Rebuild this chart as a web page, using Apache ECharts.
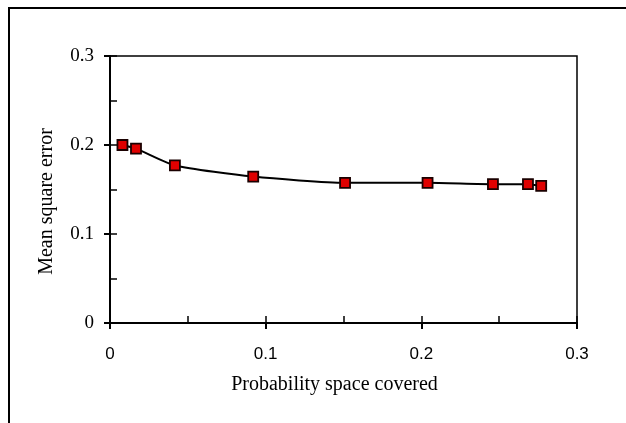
<!DOCTYPE html>
<html>
<head>
<meta charset="utf-8">
<script src="https://cdn.jsdelivr.net/npm/echarts@6/dist/echarts.min.js"></script>
<style>
html,body{margin:0;padding:0;background:#fff;}
#chart{width:626px;height:423px;}
</style>
</head>
<body>
<div id="chart"></div>
<script>
var xValues = [0.008, 0.0167, 0.0417, 0.092, 0.151, 0.204, 0.246, 0.2685, 0.277];
var yValues = [0.200, 0.196, 0.177, 0.1645, 0.1575, 0.1575, 0.156, 0.156, 0.154];
var xTitle = 'Probability space covered';
var yTitle = 'Mean square error';

var points = xValues.map(function (x, i) { return [x, yValues[i]]; });
var serif = '"Liberation Serif", "Times New Roman", serif';
var sans = '"Liberation Sans", Arial, sans-serif';

var chart = echarts.init(document.getElementById('chart'), null, {renderer: 'canvas'});
chart.setOption({
  animation: false,
  backgroundColor: '#fff',
  graphic: [{
    type: 'rect',
    shape: {x: 9, y: 8, width: 800, height: 600},
    style: {fill: 'none', stroke: '#000', lineWidth: 2},
    silent: true
  }],
  grid: {left: 110, right: 49, top: 56, bottom: 100, show: true, borderColor: '#000', borderWidth: 1.5, backgroundColor: 'transparent'},
  xAxis: [{
    type: 'value', min: 0, max: 0.3, interval: 0.1, position: 'bottom',
    name: xTitle, nameLocation: 'middle', nameGap: 52,
    nameTextStyle: {fontFamily: serif, fontSize: 20, color: '#000', padding: [0, 18, 0, 0]},
    axisLine: {show: true, lineStyle: {color: '#000', width: 2}},
    axisTick: {show: true, inside: false, length: 6, lineStyle: {color: '#000', width: 2}},
    axisLabel: {show: true, margin: 23, fontFamily: sans, fontSize: 17, color: '#000',
      formatter: function (v) { return v === 0 ? '0' : v.toFixed(1); }},
    splitLine: {show: false}
  }, {
    type: 'value', min: 0, max: 0.3, interval: 0.05, position: 'bottom',
    axisLine: {show: true, lineStyle: {color: '#000', width: 2}},
    axisTick: {show: true, inside: true, length: 7, lineStyle: {color: '#000', width: 1.5}},
    axisLabel: {show: false},
    splitLine: {show: false}
  }],
  yAxis: [{
    type: 'value', min: 0, max: 0.3, interval: 0.1, position: 'left',
    name: yTitle, nameLocation: 'middle', nameGap: 53, nameRotate: 90,
    nameTextStyle: {fontFamily: serif, fontSize: 20, color: '#000', padding: [0, 24, 0, 0]},
    axisLine: {show: true, lineStyle: {color: '#000', width: 2}},
    axisTick: {show: true, inside: false, length: 6, lineStyle: {color: '#000', width: 2}},
    axisLabel: {show: true, margin: 16, fontFamily: serif, fontSize: 19, color: '#000',
      formatter: function (v) { return v === 0 ? '0' : v.toFixed(1); }},
    splitLine: {show: false}
  }, {
    type: 'value', min: 0, max: 0.3, interval: 0.05, position: 'left',
    axisLine: {show: true, lineStyle: {color: '#000', width: 2}},
    axisTick: {show: true, inside: true, length: 7, lineStyle: {color: '#000', width: 1.5}},
    axisLabel: {show: false},
    splitLine: {show: false}
  }],
  series: [{
    type: 'line',
    xAxisIndex: 0, yAxisIndex: 0,
    data: points,
    smooth: 0.2,
    symbol: 'rect',
    symbolSize: 10,
    lineStyle: {color: '#000', width: 2},
    itemStyle: {color: '#e00000', borderColor: '#1a0000', borderWidth: 1.8},
    z: 5
  }]
});
</script>
</body>
</html>
